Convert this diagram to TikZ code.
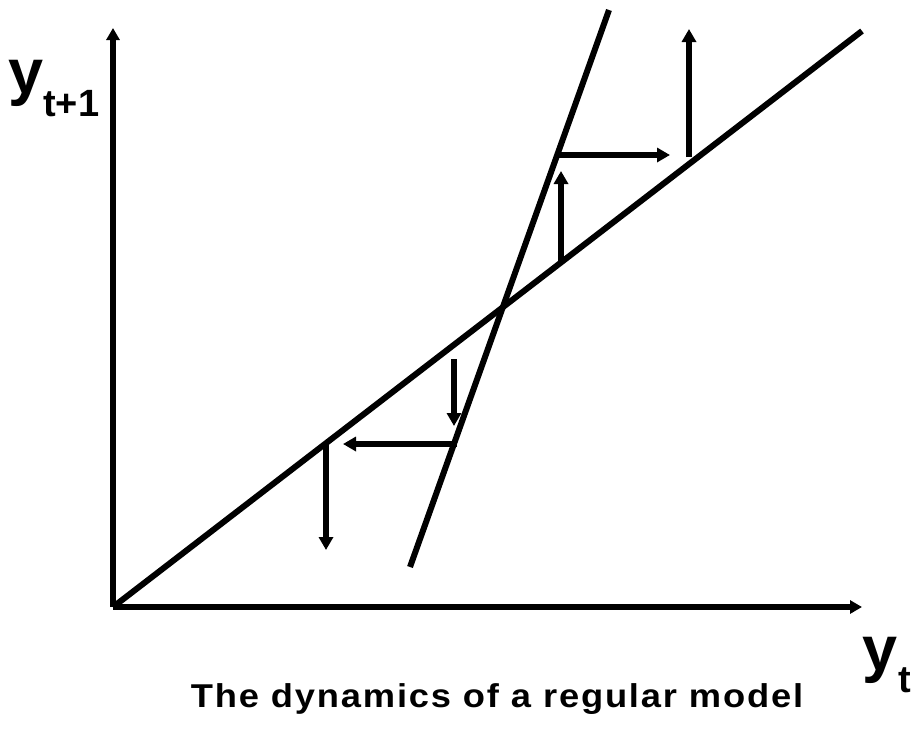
\documentclass[tikz,border=0pt]{standalone}
\usepackage{fontspec}
\setmainfont{Liberation Sans}
\newfontfamily\titlefont[LetterSpace=5]{Liberation Sans}
\usetikzlibrary{arrows.meta}
\tikzset{
  axis/.style={line width=5.5pt,-{Triangle[length=12pt,width=13pt]}},
  curve/.style={line width=6pt},
  move/.style={line width=5.5pt,-{Triangle[length=13pt,width=14pt]}},
  bigletter/.style={font=\fontsize{63}{64}\selectfont\bfseries,inner sep=0pt},
  subletter/.style={font=\fontsize{38}{40}\selectfont\bfseries,inner sep=0pt},
  caption/.style={font=\titlefont\fontsize{33}{36}\selectfont\bfseries,inner sep=0pt}
}
\begin{document}
\begin{tikzpicture}[x=1pt,y=-1pt]
\useasboundingbox (0,0) rectangle (914,729);
\fill[white] (0,0) rectangle (914,729);
\coordinate (O) at (113,607);
\coordinate (Ytip) at (113,28);
\coordinate (Xtip) at (862,607);
\coordinate (Lend) at (862,31);
\coordinate (Sbot) at (410,567);
\coordinate (Stop) at (609,10);
\draw[axis] (O) -- (Ytip);
\draw[axis] (O) -- (Xtip);
\draw[curve] (O) -- (Lend);
\draw[curve] (Sbot) -- (Stop);
% arrows above the fixed point
\coordinate (a1s) at (561,262);
\coordinate (a1e) at (561,171);
\coordinate (a2s) at (557,155);
\coordinate (a2e) at (670,155);
\coordinate (a3s) at (689,157);
\coordinate (a3e) at (689,29);
\draw[move] (a1s) -- (a1e);
\draw[move] (a2s) -- (a2e);
\draw[move] (a3s) -- (a3e);
% arrows below the fixed point
\coordinate (b1s) at (454,359);
\coordinate (b1e) at (454,426);
\coordinate (b2s) at (457,444);
\coordinate (b2e) at (343,444);
\coordinate (b3s) at (326,442);
\coordinate (b3e) at (326,550);
\draw[move] (b1s) -- (b1e);
\draw[move] (b2s) -- (b2e);
\draw[move] (b3s) -- (b3e);
% labels
\node[bigletter,anchor=base west] (ylab) at (8,93) {y};
\node[subletter,anchor=base west] (ysub) at (43,116) {t+1};
\node[bigletter,anchor=base west] (xlab) at (862,670) {y};
\node[subletter,anchor=base west] (xsub) at (898,692) {t};
\node[caption,anchor=base] (title) at (497,707) {\scalebox{1.1}[1]{The dynamics of a regular model}};
\end{tikzpicture}
\end{document}
